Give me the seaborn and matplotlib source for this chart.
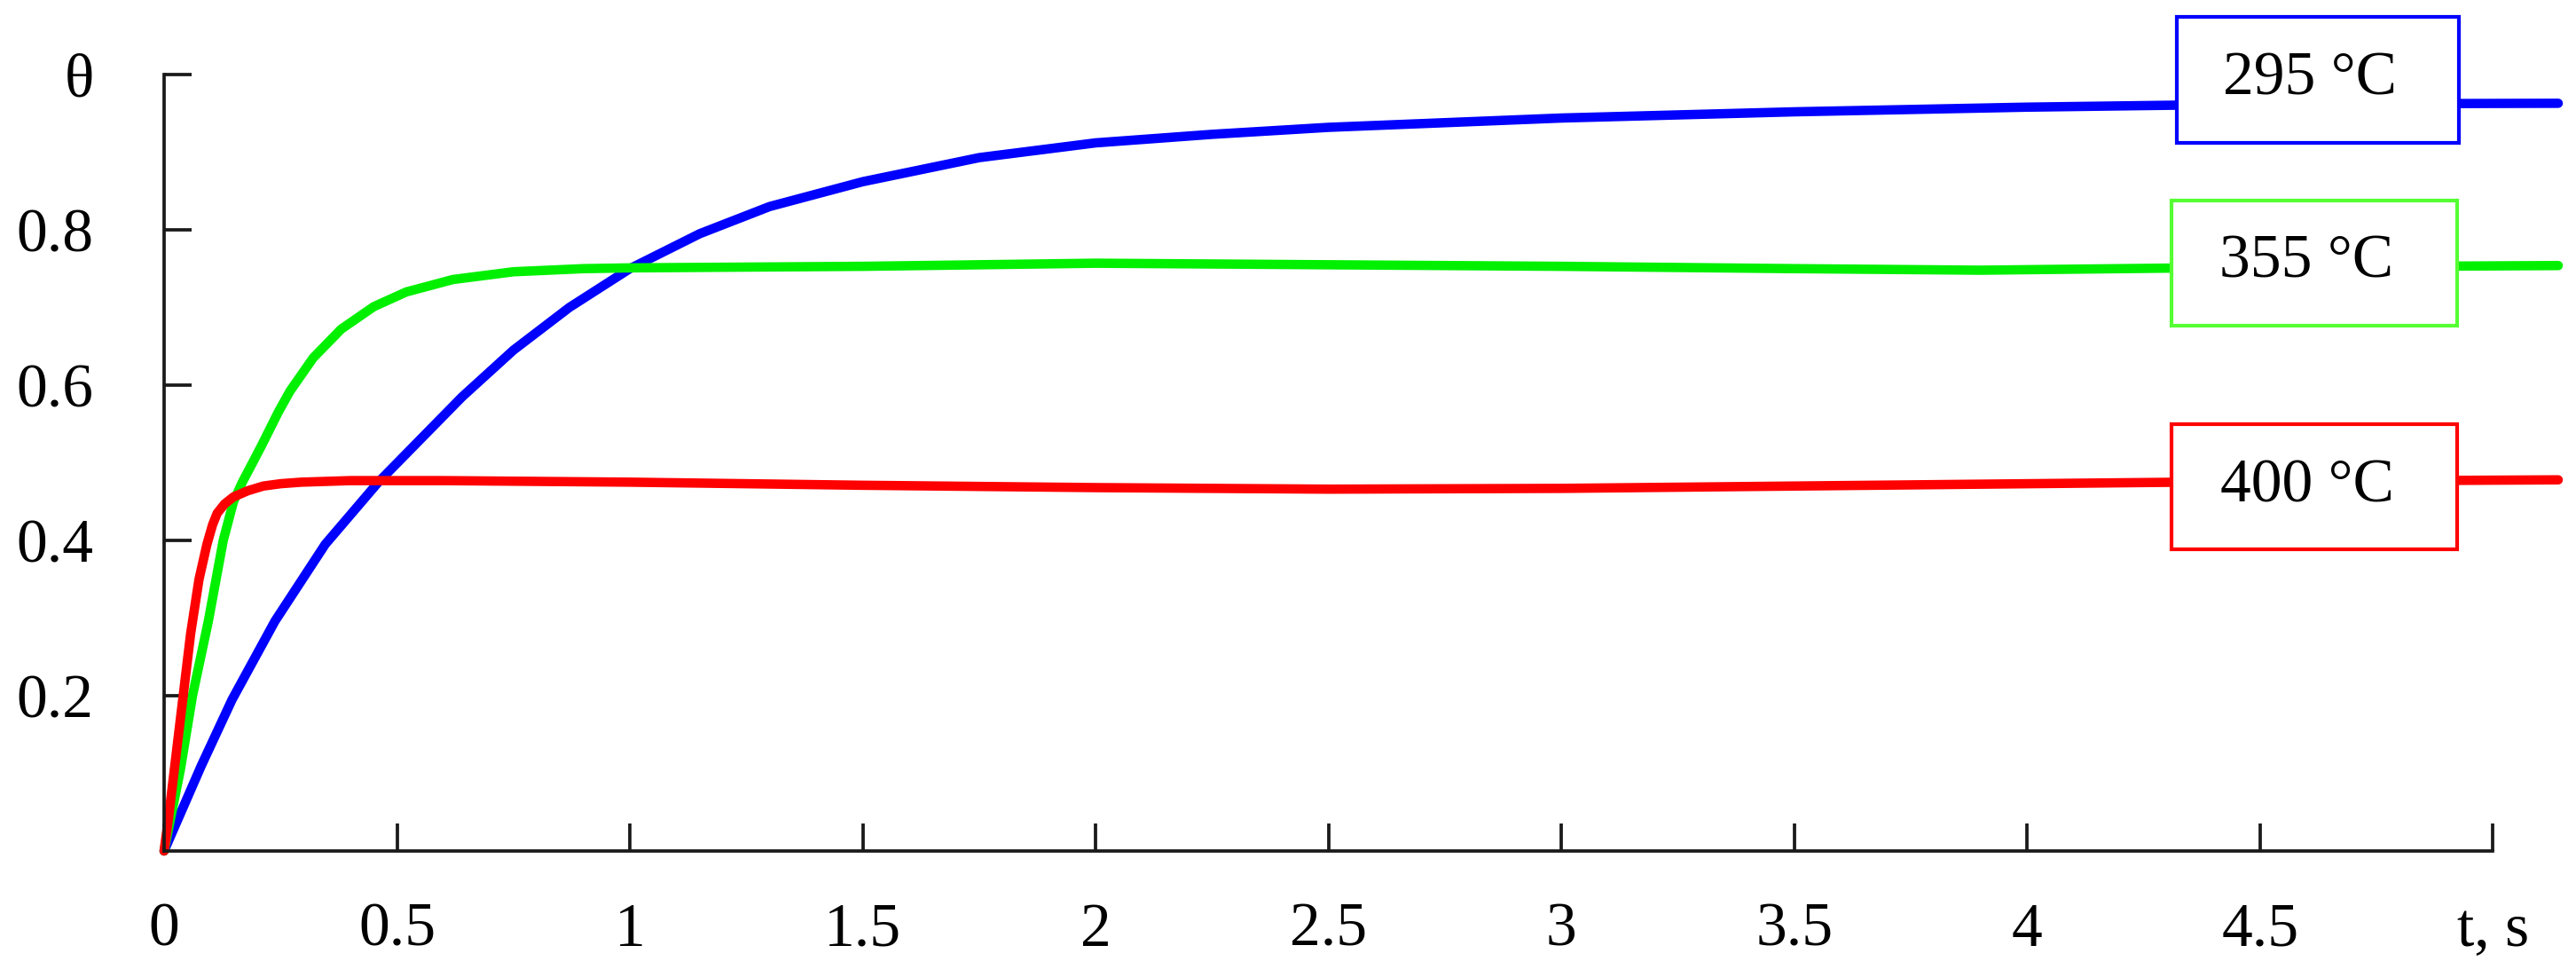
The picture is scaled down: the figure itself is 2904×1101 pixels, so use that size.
import matplotlib
matplotlib.use("Agg")
import matplotlib.pyplot as plt
from matplotlib.patches import Rectangle
import seaborn as sns
import pandas as pd

# ---- data ----
t_295 = [0, 0.04, 0.08, 0.146, 0.238, 0.346, 0.46, 0.55, 0.64, 0.75, 0.87, 1.0, 1.15, 1.3,
         1.5, 1.75, 2.0, 2.25, 2.5, 3.0, 3.5, 4.0, 4.5, 5.14]
theta_295 = [0, 0.055, 0.11, 0.195, 0.296, 0.395, 0.475, 0.53, 0.585, 0.645, 0.70, 0.75, 0.795,
             0.83, 0.862, 0.893, 0.912, 0.923, 0.932, 0.944, 0.952, 0.958, 0.962, 0.963]

t_355 = [0, 0.035, 0.061, 0.095, 0.127, 0.149, 0.168, 0.19, 0.21, 0.245, 0.27, 0.32, 0.38,
         0.45, 0.52, 0.62, 0.75, 0.9, 1.0, 1.5, 2.0, 2.5, 3.0, 3.5, 3.9, 4.5, 5.14]
theta_355 = [0, 0.105, 0.2, 0.296, 0.4, 0.45, 0.475, 0.5, 0.523, 0.565, 0.592, 0.635, 0.672,
             0.701, 0.72, 0.736, 0.746, 0.75, 0.751, 0.753, 0.757, 0.755, 0.753, 0.75, 0.748,
             0.752, 0.754]

t_400 = [0, 0.01, 0.022, 0.041, 0.057, 0.075, 0.092, 0.104, 0.114, 0.13, 0.149, 0.18, 0.213,
         0.25, 0.295, 0.4, 0.6, 1.0, 1.5, 2.0, 2.5, 3.0, 3.5, 4.0, 4.5, 5.14]
theta_400 = [0, 0.045, 0.105, 0.2, 0.28, 0.35, 0.395, 0.42, 0.435, 0.447, 0.456, 0.464, 0.47,
             0.473, 0.475, 0.477, 0.477, 0.475, 0.471, 0.468, 0.466, 0.467, 0.47, 0.473,
             0.476, 0.478]

series_labels = ["295 °C", "355 °C", "400 °C"]
series_colors = ["#0000FF", "#00F000", "#FF0000"]
box_edge_colors = ["#0000FF", "#55FF33", "#FF0000"]

x_ticks = [0, 0.5, 1, 1.5, 2, 2.5, 3, 3.5, 4, 4.5, 5]
x_tick_labels = ["0", "0.5", "1", "1.5", "2", "2.5", "3", "3.5", "4", "4.5", "t, s"]
y_ticks = [0.2, 0.4, 0.6, 0.8, 1.0]
y_tick_labels = ["0.2", "0.4", "0.6", "0.8", "θ"]

# ---- styling ----
sns.set_style("ticks")
plt.rcParams["font.family"] = ["Liberation Serif", "DejaVu Serif"]

FS = 50
fig = plt.figure(figsize=(29.04, 11.01), dpi=100)
ax = fig.add_axes([0.0637, 0.129, 0.9294, 0.7947])

series = [(t_295, theta_295), (t_355, theta_355), (t_400, theta_400)]
for (tt, yy), lab, col in zip(series, series_labels, series_colors):
    df = pd.DataFrame({"t": tt, "theta": yy})
    sns.lineplot(data=df, x="t", y="theta", color=col, linewidth=7.6, ax=ax,
                 sort=False, estimator=None, clip_on=False, legend=False,
                 solid_joinstyle="round", solid_capstyle="round")

ax.set_xlim(0, 5.14)
ax.set_ylim(0, 1)
ax.set_xlabel("")
ax.set_ylabel("")
ax.set_xticks(x_ticks)
ax.set_xticklabels(x_tick_labels)
ax.set_yticks(y_ticks)
ax.set_yticklabels(y_tick_labels)

for s in ["top", "right"]:
    ax.spines[s].set_visible(False)
for s in ["left", "bottom"]:
    ax.spines[s].set_linewidth(2.7)
    ax.spines[s].set_color("#1a1a1a")
ax.spines["bottom"].set_bounds(0, 5)
ax.spines["left"].set_bounds(0, 1)

ax.tick_params(axis="both", direction="in", length=22, width=2.7, color="#1a1a1a",
               labelsize=FS, labelcolor="black")
ax.tick_params(axis="y", pad=57)
ax.tick_params(axis="x", pad=42)

# ---- labelled boxes (figure fraction) ----
boxes = [(0.845, 0.854, 0.1095, 0.129),
         (0.843, 0.667, 0.111, 0.128),
         (0.843, 0.438, 0.111, 0.128)]
for (x0, y0, w, h), lab, ec in zip(boxes, series_labels, box_edge_colors):
    r = Rectangle((x0, y0), w, h, transform=fig.transFigure, facecolor="white",
                  edgecolor=ec, linewidth=3.0, zorder=10, clip_on=False)
    ax.add_patch(r)
    ax.text(x0 + w / 2 - 0.003, y0 + h / 2, lab, transform=fig.transFigure,
            ha="center", va="center", fontsize=FS, color="black", zorder=11)

fig.savefig("out.png", dpi=100, facecolor="white")
